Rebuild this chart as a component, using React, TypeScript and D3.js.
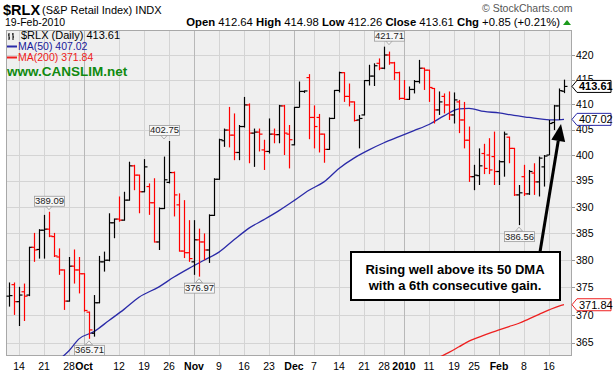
import React from 'react';
import * as d3 from 'd3';

// ---------- DATA ----------
const dates = [
  '2009-09-10','2009-09-11','2009-09-14','2009-09-15','2009-09-16','2009-09-17','2009-09-18','2009-09-21','2009-09-22','2009-09-23','2009-09-24','2009-09-25','2009-09-28','2009-09-29','2009-09-30',
  '2009-10-01','2009-10-02','2009-10-05','2009-10-06','2009-10-07','2009-10-08','2009-10-09','2009-10-12','2009-10-13','2009-10-14','2009-10-15','2009-10-16','2009-10-19','2009-10-20','2009-10-21','2009-10-22','2009-10-23','2009-10-26','2009-10-27','2009-10-28','2009-10-29','2009-10-30',
  '2009-11-02','2009-11-03','2009-11-04','2009-11-05','2009-11-06','2009-11-09','2009-11-10','2009-11-11','2009-11-12','2009-11-13','2009-11-16','2009-11-17','2009-11-18','2009-11-19','2009-11-20','2009-11-23','2009-11-24','2009-11-25','2009-11-27','2009-11-30',
  '2009-12-01','2009-12-02','2009-12-03','2009-12-04','2009-12-07','2009-12-08','2009-12-09','2009-12-10','2009-12-11','2009-12-14','2009-12-15','2009-12-16','2009-12-17','2009-12-18','2009-12-21','2009-12-22','2009-12-23','2009-12-24','2009-12-28','2009-12-29','2009-12-30','2009-12-31',
  '2010-01-04','2010-01-05','2010-01-06','2010-01-07','2010-01-08','2010-01-11','2010-01-12','2010-01-13','2010-01-14','2010-01-15','2010-01-19','2010-01-20','2010-01-21','2010-01-22','2010-01-25','2010-01-26','2010-01-27','2010-01-28','2010-01-29',
  '2010-02-01','2010-02-02','2010-02-03','2010-02-04','2010-02-05','2010-02-08','2010-02-09','2010-02-10','2010-02-11','2010-02-12','2010-02-16','2010-02-17','2010-02-18','2010-02-19',
];

const opens = [
  373.4,375.5,372.4,374.2,373.6,382.4,382.0,385.6,385.8,384.4,380.6,378.2,372.5,378.9,378.2,
  377.5,370.5,366.7,372.2,379.7,380.0,387.0,387.7,387.5,391.3,397.9,396.1,392.9,393.9,390.8,383.4,389.7,394.7,396.6,390.4,381.7,381.4,
  379.7,383.8,383.4,381.9,388.4,395.3,402.8,404.9,403.9,400.5,405.6,409.9,404.3,404.5,401.0,400.7,404.1,404.0,409.7,404.1,
  402.0,409.4,412.6,415.4,407.4,407.4,404.1,401.1,407.2,412.8,416.4,411.6,410.5,406.9,407.9,414.8,415.7,418.3,417.3,420.0,418.4,416.4,
  411.2,411.0,413.0,414.6,417.3,416.9,413.2,408.9,411.6,409.9,407.9,410.5,406.9,402.9,395.8,396.0,400.3,400.0,399.7,
  396.8,398.7,403.5,401.3,392.3,395.8,392.5,396.5,394.8,397.7,400.0,406.4,409.7,412.64,
];
const highs = [
  375.9,375.9,375.1,375.7,382.5,385.1,385.8,388.5,389.09,385.1,382.2,378.3,380.6,382.0,380.6,
  377.6,370.6,373.6,380.8,381.6,388.8,387.8,392.0,392.9,398.7,398.1,396.2,399.2,394.5,395.5,389.9,399.7,402.75,396.8,392.6,391.3,387.5,
  387.5,385.9,385.0,388.6,395.5,403.2,405.2,409.5,408.2,405.9,411.5,410.2,405.2,405.2,403.0,407.2,405.2,409.9,409.9,405.9,
  409.5,414.6,412.8,416.1,409.8,408.1,404.2,407.4,412.9,416.6,416.5,414.2,410.6,407.9,414.9,418.0,418.3,419.3,421.71,420.7,418.6,416.6,
  414.9,413.6,414.9,419.0,417.4,417.0,413.3,412.6,412.2,412.6,412.4,410.9,410.5,405.6,398.1,401.3,402.2,403.3,404.6,
  399.0,404.6,403.6,401.4,394.2,398.1,397.1,398.4,399.7,400.0,406.9,409.9,413.2,414.98,
];
const lows = [
  371.5,370.0,368.0,368.9,373.4,379.7,380.3,380.3,384.3,380.6,377.3,370.9,372.4,375.7,373.9,
  370.6,365.71,366.1,372.1,377.9,379.8,384.1,387.2,387.4,391.2,393.2,388.8,392.8,388.5,383.3,381.9,389.6,394.5,388.2,381.6,380.4,379.7,
  377.3,376.97,380.0,379.5,388.3,395.2,401.6,401.5,399.0,399.0,405.4,398.4,397.7,400.7,397.1,400.3,402.3,402.3,400.0,397.4,
  401.9,409.4,412.3,403.1,401.3,400.5,398.5,401.0,407.1,412.4,410.5,409.6,406.6,401.3,407.8,413.8,413.7,416.9,417.1,418.0,414.9,410.9,
  410.9,410.9,412.2,414.2,412.9,410.5,406.2,407.9,408.2,406.9,406.2,404.3,401.3,394.8,393.2,394.2,396.3,396.3,394.2,
  394.2,395.8,398.4,392.1,386.56,392.1,392.3,392.3,392.0,393.9,400.0,404.9,406.9,412.26,
];
const closes = [
  373.5,372.4,373.6,373.4,382.4,381.9,385.6,385.8,384.5,380.8,378.2,372.5,378.9,378.2,377.5,
  370.8,367.3,372.2,379.7,380.0,387.0,387.7,387.5,391.3,397.9,396.1,392.9,397.7,390.8,383.4,389.7,395.2,396.6,392.3,381.7,381.4,380.3,
  383.8,383.4,381.9,388.4,395.3,403.0,404.9,403.9,400.5,405.6,409.9,404.3,404.5,404.1,400.7,404.1,404.0,409.7,404.3,403.0,
  409.4,412.6,412.7,407.4,405.6,404.1,401.1,407.2,412.8,416.4,411.6,410.5,406.8,407.2,414.8,415.7,417.8,417.3,420.0,418.4,416.4,411.2,
  411.0,413.0,414.6,417.3,416.9,413.4,408.9,410.5,409.9,407.9,410.9,406.9,402.9,395.8,396.1,397.9,397.4,397.1,396.8,
  398.7,404.1,401.3,392.3,392.7,392.5,396.8,394.8,399.4,399.8,406.2,409.7,412.76,413.61,
];

const ma50Dates = ['2009-09-24','2009-09-28','2009-09-30','2009-10-05','2009-10-08','2009-10-13','2009-10-16','2009-10-22','2009-10-27','2009-10-30','2009-11-04','2009-11-09','2009-11-12','2009-11-17','2009-11-20','2009-11-25','2009-12-01','2009-12-04','2009-12-09','2009-12-14','2009-12-17','2009-12-22','2009-12-28','2009-12-31','2010-01-06','2010-01-11','2010-01-14','2010-01-20','2010-01-22','2010-01-27','2010-02-01','2010-02-04','2010-02-09','2010-02-12','2010-02-17','2010-02-19'];
const ma50Values = [362.0,363.6,365.7,367.0,369.0,371.0,373.2,375.1,376.9,378.5,380.0,381.5,383.8,386.0,387.6,389.3,391.2,393.2,394.8,397.4,399.4,401.0,402.4,403.6,404.8,406.0,407.7,409.1,409.2,408.6,408.3,407.8,407.4,407.0,406.9,407.02];

const ma200Dates = ['2010-01-13','2010-01-15','2010-01-20','2010-01-22','2010-01-26','2010-01-28','2010-02-01','2010-02-03','2010-02-05','2010-02-09','2010-02-11','2010-02-16','2010-02-18','2010-02-19'];
const ma200Values = [362.4,363.3,364.3,365.3,366.0,366.7,367.3,367.9,368.5,369.3,370.1,370.9,371.6,371.84];

const yTickValues = [365,370,375,380,385,390,395,400,405,410,415,420];
const xTickDates = ['2009-09-14','2009-09-21','2009-09-28','2009-10-01','2009-10-12','2009-10-19','2009-10-26','2009-11-02','2009-11-09','2009-11-16','2009-11-23','2009-12-01','2009-12-07','2009-12-14','2009-12-21','2009-12-28','2010-01-04','2010-01-11','2010-01-19','2010-01-25','2010-02-01','2010-02-08','2010-02-16'];
const xTickLabels = ['14','21','28','Oct','12','19','26','Nov','9','16','23','Dec','7','14','21','28','2010','11','19','25','Feb','8','16'];
const xTickMajor = [false,false,false,true,false,false,false,true,false,false,false,true,false,false,false,false,true,false,false,false,true,false,false];

const markDates = ['2009-09-22','2009-10-23','2009-12-29','2009-10-02','2009-11-03','2010-02-05'];
const markValues = [389.09,402.75,421.71,365.71,376.97,386.56];
const markAbove = [true,true,true,false,false,false];

const headerLabels = ['Open','High','Low','Close','Chg'];
const headerValues = ['412.64','414.98','412.26','413.61','+0.85 (+0.21%)'];
const lastClose = 413.61, lastMa50 = 407.02, lastMa200 = 371.84;
const calloutLines = ['Rising well above its 50 DMA','with a 6th consecutive gain.'];

// ---------- CHART ----------
const FONT = 'Liberation Sans, Arial, sans-serif';
const L = 6, T = 30, R = 572, B = 356;

export default function App() {
  const x = d3.scalePoint<string>().domain(dates).range([9, 564]);
  const y = d3.scaleLog().domain([362.66, 425.15]).range([B, T]);

  const lineGen = d3.line<[string, number]>().x(d => x(d[0]) as number).y(d => y(d[1])).curve(d3.curveMonotoneX);
  const ma50Path = lineGen(ma50Dates.map((d, i) => [d, ma50Values[i]] as [string, number])) || '';
  const ma200Path = lineGen(ma200Dates.map((d, i) => [d, ma200Values[i]] as [string, number])) || '';

  const tag = (v: number, stroke: string, bold: boolean, color: string) => {
    const cy = y(v);
    const h = 6;
    const p = `M${R},${cy} L${R + 5},${cy - h} L611,${cy - h} L611,${cy + h} L${R + 5},${cy + h} Z`;
    return (
      <g key={'tag' + v}>
        <path d={p} fill="#fff" stroke={stroke} strokeWidth={1} />
        <text x={R + 7} y={cy + 3.8} fontSize={11} fontWeight={bold ? 'bold' : 'normal'} fill={color} fontFamily={FONT}>{v.toFixed(2)}</text>
      </g>
    );
  };

  const tip = { x: 561, y: 124 };
  const tail = { x: 540, y: 252 };
  const dx = tip.x - tail.x, dy = tip.y - tail.y, len = Math.hypot(dx, dy);
  const ux = dx / len, uy = dy / len;
  const bx = tip.x - 17 * ux, by = tip.y - 17 * uy;
  const px = -uy, py = ux;

  return (
    <svg width={615} height={376} style={{ position: 'absolute', left: 0, top: 0, background: '#fff' }} fontFamily={FONT}>
      <defs>
        <clipPath id="plotClip"><rect x={L} y={T} width={R - L} height={B - T} /></clipPath>
      </defs>
      {/* Header */}
      <text x={3} y={15} fontSize={14.5} fontWeight="bold" fill="#000">$RLX</text>
      <text x={42} y={14} fontSize={11} fill="#000">(S&amp;P Retail Index)  INDX</text>
      <text x={5} y={26} fontSize={10.5} fill="#000">19-Feb-2010</text>
      <text x={482} y={12} fontSize={10.5} fill="#555">© StockCharts.com</text>
      <text x={560} y={26} fontSize={11.3} textAnchor="end" fill="#000">
        {headerLabels.map((lab, i) => (
          <React.Fragment key={lab}>
            <tspan fontWeight="bold">{(i > 0 ? '  ' : '') + lab}</tspan>
            <tspan>{' ' + headerValues[i]}</tspan>
          </React.Fragment>
        ))}
      </text>
      <path d="M563,25 L567,20 L571,25 Z" fill="#1a9a1a" />

      {/* Plot background */}
      <rect x={L} y={T} width={R - L} height={B - T} fill="#efefef" />
      {yTickValues.map(v => (
        <line key={'gy' + v} x1={L} x2={R} y1={Math.round(y(v)) + 0.5} y2={Math.round(y(v)) + 0.5} stroke="#d4d4d4" strokeWidth={1} />
      ))}
      {xTickDates.map((d, i) => (
        <line key={'gx' + d} x1={Math.round(x(d) as number) + 0.5} x2={Math.round(x(d) as number) + 0.5} y1={T} y2={B} stroke={xTickMajor[i] ? '#b8b8b8' : '#d4d4d4'} strokeWidth={1} />
      ))}
      <rect x={L + 0.5} y={T + 0.5} width={R - L - 1} height={B - T - 1} fill="none" stroke="#a8a8a8" strokeWidth={1} />

      {/* Moving averages */}
      <g clipPath="url(#plotClip)">
        <path d={ma50Path} fill="none" stroke="#2a2aa8" strokeWidth={1.3} />
        <path d={ma200Path} fill="none" stroke="#ee2020" strokeWidth={1.3} />
      </g>

      {/* OHLC bars */}
      <g>
        {dates.map((d, i) => {
          const cx = Math.round(x(d) as number) + 0.5;
          const up = i === 0 ? true : closes[i] >= closes[i - 1];
          const col = up ? '#000' : '#ff0000';
          return (
            <g key={'b' + d} stroke={col} strokeWidth={1.2}>
              <line x1={cx} x2={cx} y1={y(highs[i])} y2={y(lows[i])} />
              <line x1={cx - 3} x2={cx} y1={y(opens[i])} y2={y(opens[i])} />
              <line x1={cx} x2={cx + 3} y1={y(closes[i])} y2={y(closes[i])} />
            </g>
          );
        })}
      </g>

      {/* Price marks */}
      {markDates.map((d, i) => {
        const cx = x(d) as number;
        const py0 = y(markValues[i]);
        const above = markAbove[i];
        const bh = 10, bw = 30;
        const by0 = above ? py0 - 6 - bh : py0 + 6;
        const triY = above ? by0 + bh : by0;
        const triTip = above ? py0 - 2 : py0 + 2;
        return (
          <g key={'m' + i}>
            <path d={`M${cx - 3.5},${triY} L${cx},${triTip} L${cx + 3.5},${triY} Z`} fill="#f7f7f7" stroke="#9a9a9a" strokeWidth={0.8} />
            <rect x={cx - bw / 2 + 0.5} y={by0 + 0.5} width={bw} height={bh} fill="#f7f7f7" stroke="#9a9a9a" strokeWidth={0.8} />
            <text x={cx + 0.5} y={by0 + 8.5} fontSize={9.5} textAnchor="middle" fill="#222">{markValues[i].toFixed(2)}</text>
          </g>
        );
      })}

      {/* Legend */}
      <g>
        <path d="M9,33 L9,40 M8,35 L9,35 M9,38 L10,38 M13,33 L13,40 M12,34 L13,34 M13,37 L14,37" stroke="#000" strokeWidth={1} fill="none" />
        <text x={21} y={39} fontSize={11} fill="#000">$RLX (Daily) {lastClose.toFixed(2)}</text>
        <line x1={7} x2={17} y1={46.5} y2={46.5} stroke="#2a2aa8" strokeWidth={2} />
        <text x={18} y={50} fontSize={10.5} fill="#1a1a9a">MA(50) {lastMa50.toFixed(2)}</text>
        <line x1={7} x2={17} y1={57.5} y2={57.5} stroke="#ee2020" strokeWidth={2} />
        <text x={18} y={61} fontSize={10.5} fill="#ee2020">MA(200) {lastMa200.toFixed(2)}</text>
        <text x={7} y={76} fontSize={13.5} fontWeight="bold" fill="#108a10">www.CANSLIM.net</text>
      </g>

      {/* Right axis */}
      {yTickValues.map(v => (
        <g key={'yl' + v}>
          <line x1={R} x2={R + 3} y1={Math.round(y(v)) + 0.5} y2={Math.round(y(v)) + 0.5} stroke="#999" />
          <text x={576} y={y(v) + 3.6} fontSize={10.5} fill="#000">{v}</text>
        </g>
      ))}
      {tag(lastMa200, '#ee2020', false, '#000')}
      {tag(lastMa50, '#2a2aa8', false, '#000')}
      {tag(lastClose, '#000', true, '#000')}

      {/* Bottom axis */}
      {xTickDates.map((d, i) => (
        <text key={'xl' + d} x={x(d) as number} y={370} fontSize={10.5} fontWeight={xTickMajor[i] ? 'bold' : 'normal'} textAnchor="middle" fill="#000">{xTickLabels[i]}</text>
      ))}

      {/* Callout */}
      <line x1={tail.x} y1={tail.y} x2={bx} y2={by} stroke="#000" strokeWidth={3} />
      <path d={`M${tip.x},${tip.y} L${bx + 7 * px},${by + 7 * py} L${bx - 7 * px},${by - 7 * py} Z`} fill="#000" />
      <rect x={351} y={252} width={209} height={48} fill="#fff" stroke="#000" strokeWidth={2} />
      {calloutLines.map((t, i) => (
        <text key={'c' + i} x={455} y={274 + i * 16} fontSize={13} fontWeight="bold" textAnchor="middle" fill="#000">{t}</text>
      ))}
    </svg>
  );
}
